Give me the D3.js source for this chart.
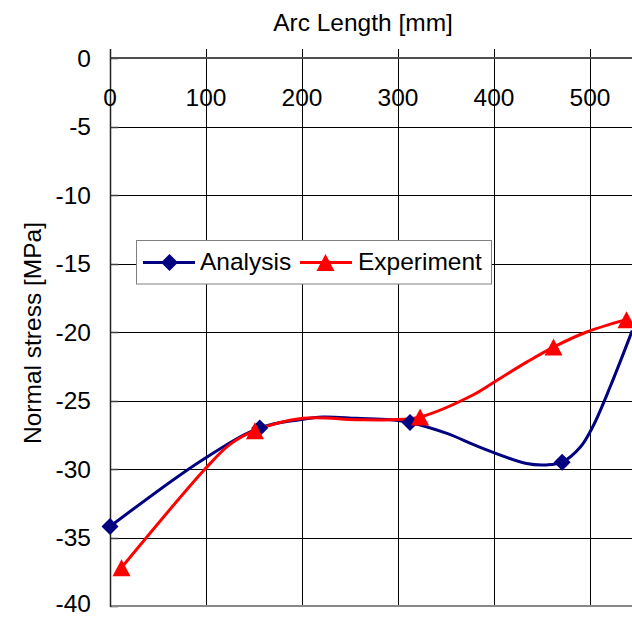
<!DOCTYPE html>
<html>
<head>
<meta charset="utf-8">
<script src="https://cdn.jsdelivr.net/npm/d3@7"></script>
<style>
  html, body { margin: 0; padding: 0; background: #fff; }
  svg { display: block; }
  text { font-family: "Liberation Sans", Arial, sans-serif; fill: #000; }
</style>
</head>
<body>
<svg id="chart" width="632" height="617"></svg>
<script>
// ---- data ----
const xTicks = [0, 100, 200, 300, 400, 500];
const yTicks = [0, -5, -10, -15, -20, -25, -30, -35, -40];

// Analysis curve (arc length mm, stress MPa)
const analysisX = [0, 97, 156, 198, 222, 257, 292, 312.5, 351, 385, 434, 455, 471, 490, 503, 521, 544];
const analysisY = [-34.2, -29.3, -27.0, -26.4, -26.2, -26.3, -26.4, -26.6, -27.4, -28.4, -29.6, -29.7, -29.5, -28.4, -26.9, -24.0, -19.9];
const analysisMarkX = [0, 156, 312.5, 471];
const analysisMarkY = [-34.2, -27.0, -26.6, -29.5];

// Experiment curve
const experimentX = [12, 99, 125, 151, 201, 257, 292, 323, 378, 399, 434, 462, 496.5, 538];
const experimentY = [-37.2, -30.0, -28.2, -27.2, -26.3, -26.4, -26.4, -26.2, -24.6, -23.7, -22.2, -21.1, -20.0, -19.1];
const experimentMarkX = [12, 151, 323, 462, 538];
const experimentMarkY = [-37.2, -27.2, -26.2, -21.1, -19.1];

const seriesNames = ["Analysis", "Experiment"];
const xTitle = "Arc Length [mm]";
const yTitle = "Normal stress [MPa]";

(function () {
// ---- layout ----
const svg = d3.select("#chart");
const pL = 110, pR = 638, pT = 58, pB = 606;
const x = d3.scaleLinear().domain([0, 550]).range([pL, pR]);
const y = d3.scaleLinear().domain([0, -40]).range([pT, pB]);
const navy = "#000080", red = "#ff0000";
const fs = 24.5;

// horizontal grid
svg.append("g").selectAll("line").data(yTicks.filter(d => d !== 0 && d !== -40)).join("line")
  .attr("x1", pL).attr("x2", 632)
  .attr("y1", d => Math.round(y(d)) + 0.5).attr("y2", d => Math.round(y(d)) + 0.5)
  .attr("stroke", "#000").attr("stroke-width", 1);
// vertical grid (with outside tick above top)
svg.append("g").selectAll("line").data(xTicks.filter(d => d !== 0)).join("line")
  .attr("x1", d => Math.round(x(d)) + 0.5).attr("x2", d => Math.round(x(d)) + 0.5)
  .attr("y1", pT - 9).attr("y2", pB)
  .attr("stroke", "#000").attr("stroke-width", 1);
// inside y ticks
svg.append("g").selectAll("line").data(yTicks).join("line")
  .attr("x1", pL).attr("x2", pL + 8)
  .attr("y1", d => Math.round(y(d)) + 0.5).attr("y2", d => Math.round(y(d)) + 0.5)
  .attr("stroke", "#404040").attr("stroke-width", 1.5);
// top and bottom border
svg.append("line").attr("x1", pL).attr("x2", 632).attr("y1", y(0)).attr("y2", y(0))
  .attr("stroke", "#505050").attr("stroke-width", 2);
svg.append("line").attr("x1", pL).attr("x2", 632).attr("y1", y(-40)).attr("y2", y(-40))
  .attr("stroke", "#888").attr("stroke-width", 2);
// left axis
svg.append("line").attr("x1", pL + 0.5).attr("x2", pL + 0.5).attr("y1", pT - 9).attr("y2", pB + 1)
  .attr("stroke", "#202020").attr("stroke-width", 1.5);

// y tick labels
svg.append("g").selectAll("text").data(yTicks).join("text")
  .attr("x", 91).attr("y", d => y(d) - (d === -40 ? 3 : 0)).attr("dy", "0.35em")
  .attr("text-anchor", "end").attr("font-size", fs)
  .text(d => d);
// x tick labels (inside plot, below top)
svg.append("g").selectAll("text").data(xTicks).join("text")
  .attr("x", d => x(d)).attr("y", 105.5)
  .attr("text-anchor", "middle").attr("font-size", fs)
  .text(d => d);

// titles
svg.append("text").attr("x", 363).attr("y", 30.5).attr("text-anchor", "middle")
  .attr("font-size", fs).text(xTitle);
svg.append("text").attr("transform", "translate(41,333) rotate(-90)").attr("text-anchor", "middle")
  .attr("font-size", fs).text(yTitle);

// lines
const line = d3.line().x(d => x(d[0])).y(d => y(d[1])).curve(d3.curveCatmullRom.alpha(0.5));
const aPts = analysisX.map((v, i) => [v, analysisY[i]]);
const ePts = experimentX.map((v, i) => [v, experimentY[i]]);
svg.append("path").datum(aPts).attr("d", line).attr("fill", "none").attr("stroke", navy).attr("stroke-width", 3);
svg.append("path").datum(ePts).attr("d", line).attr("fill", "none").attr("stroke", red).attr("stroke-width", 3);

// markers
function diamondPath(cx, cy, r) {
  return `M${cx},${cy - r}L${cx + r},${cy}L${cx},${cy + r}L${cx - r},${cy}Z`;
}
function triPath(cx, cy, w, h) {
  return `M${cx},${cy - h / 2}L${cx + w / 2},${cy + h / 2}L${cx - w / 2},${cy + h / 2}Z`;
}
svg.append("g").selectAll("path").data(analysisMarkX.map((v, i) => [v, analysisMarkY[i]])).join("path")
  .attr("d", d => diamondPath(x(d[0]), y(d[1]), 8.5)).attr("fill", navy);
svg.append("g").selectAll("path").data(experimentMarkX.map((v, i) => [v, experimentMarkY[i]])).join("path")
  .attr("d", d => triPath(x(d[0]), y(d[1]), 18, 17)).attr("fill", red);

// legend
const lg = svg.append("g");
lg.append("rect").attr("x", 136.5).attr("y", 240.5).attr("width", 355).attr("height", 43.5)
  .attr("fill", "#fff").attr("stroke", "#808080").attr("stroke-width", 1);
const ly = 262.5;
lg.append("line").attr("x1", 143).attr("x2", 195).attr("y1", ly).attr("y2", ly).attr("stroke", navy).attr("stroke-width", 3);
lg.append("path").attr("d", diamondPath(169.5, ly, 8.5)).attr("fill", navy);
lg.append("text").attr("x", 200).attr("y", 270).attr("font-size", fs).text(seriesNames[0]);
lg.append("line").attr("x1", 300).attr("x2", 352).attr("y1", ly).attr("y2", ly).attr("stroke", red).attr("stroke-width", 3);
lg.append("path").attr("d", triPath(325.5, ly, 18, 17)).attr("fill", red);
lg.append("text").attr("x", 358).attr("y", 270).attr("font-size", fs).text(seriesNames[1]);
})();
</script>
</body>
</html>
